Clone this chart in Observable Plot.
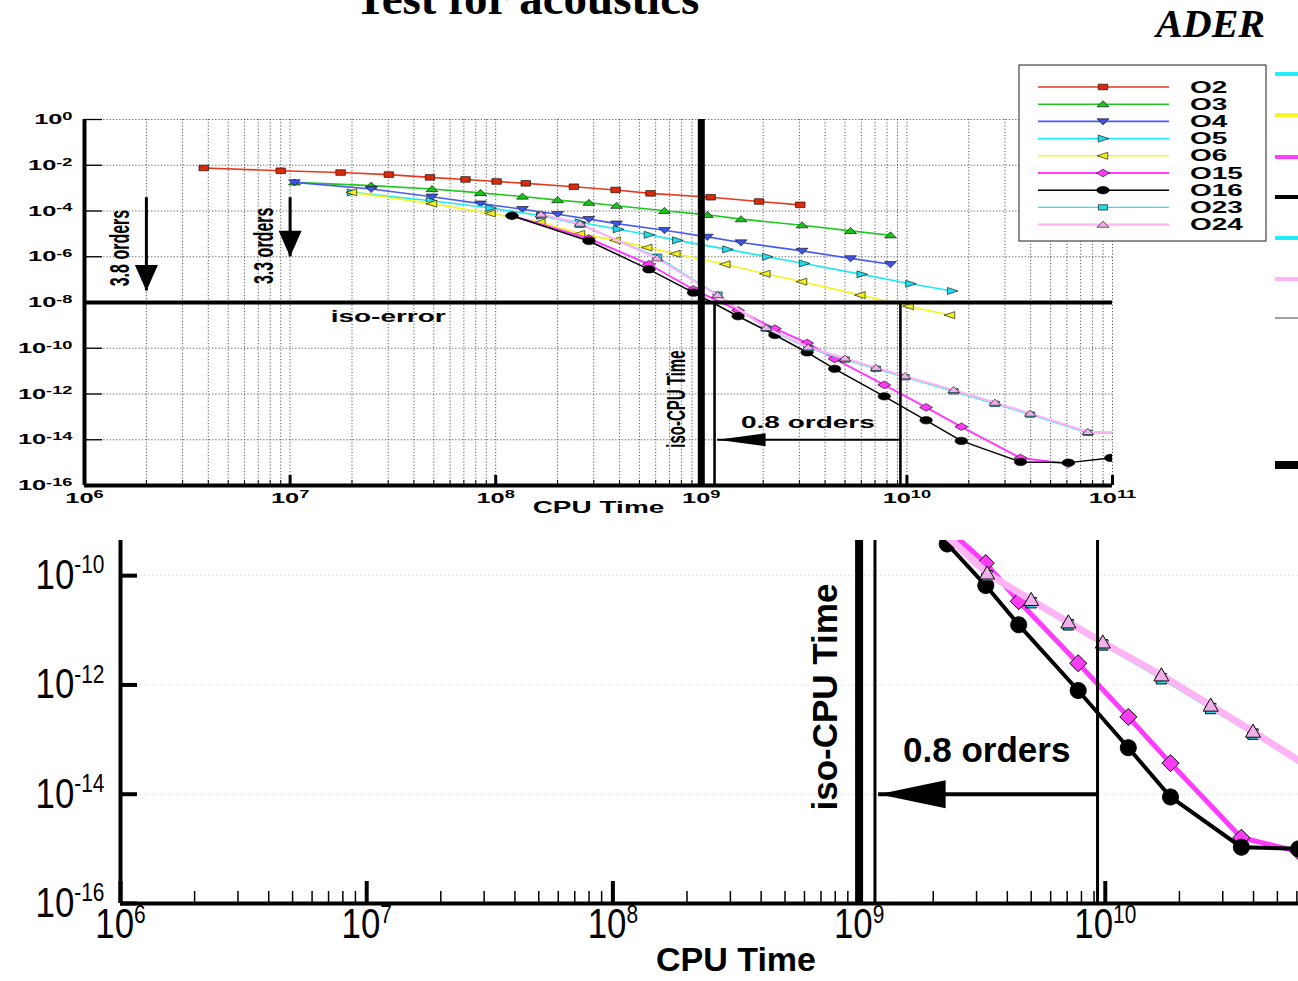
<!DOCTYPE html>
<html>
<head>
<meta charset="utf-8">
<script src="https://cdn.jsdelivr.net/npm/d3@7"></script>
<script src="https://cdn.jsdelivr.net/npm/@observablehq/plot@0.6"></script>
<style>
  html, body { margin: 0; padding: 0; background: #fff; overflow: hidden; width: 1298px; height: 981px; }
  #page { position: relative; width: 1298px; height: 981px; overflow: hidden; background: #fff; }
  #upper { position: absolute; left: 0; top: 0; }
  #lower { position: absolute; left: 0; top: 530px; }
  #page svg { max-width: none !important; }
</style>
</head>
<body>
<div id="page">
  <div id="lower"></div>
  <div id="upper"></div>
</div>
<script>
// ---- Error versus CPU time for each scheme order ----
const o2Time = [3.8e6, 9.0e6, 1.76e7, 3.02e7, 4.79e7, 7.13e7, 1.01e8, 1.40e8, 2.40e8, 3.83e8, 5.66e8, 1.11e9, 1.91e9, 3.03e9];
const o2Err  = [7.6e-3, 5.75e-3, 4.8e-3, 3.9e-3, 2.95e-3, 2.4e-3, 1.95e-3, 1.62e-3, 1.15e-3, 8.3e-4, 5.9e-4, 4.0e-4, 2.6e-4, 1.86e-4];
const o3Time = [1.05e7, 2.48e7, 4.9e7, 8.43e7, 1.35e8, 2.0e8, 2.84e8, 3.87e8, 6.62e8, 1.07e9, 1.56e9, 3.09e9, 5.32e9, 8.32e9];
const o3Err  = [1.78e-3, 1.29e-3, 9.1e-4, 6.2e-4, 4.3e-4, 3.0e-4, 2.3e-4, 1.7e-4, 1.02e-4, 6.8e-5, 4.4e-5, 2.4e-5, 1.35e-5, 8.7e-6];
const o4Time = [1.05e7, 2.48e7, 4.9e7, 8.43e7, 1.35e8, 2.0e8, 2.84e8, 3.87e8, 6.62e8, 1.07e9, 1.56e9, 3.09e9, 5.32e9, 8.32e9];
const o4Err  = [1.78e-3, 9.1e-4, 4.2e-4, 2.1e-4, 1.2e-4, 7.2e-5, 4.4e-5, 2.8e-5, 1.45e-5, 7.4e-6, 4.2e-6, 1.8e-6, 8.5e-7, 4.7e-7];
const o5Time = [2.0e7, 4.85e7, 9.44e7, 1.67e8, 2.57e8, 3.93e8, 5.56e8, 7.64e8, 1.34e9, 2.09e9, 3.16e9, 6.03e9, 1.04e10, 1.66e10];
const o5Err  = [6.5e-4, 2.8e-4, 1.35e-4, 6.2e-5, 3.2e-5, 1.6e-5, 9.1e-6, 5.2e-6, 2.1e-6, 1.0e-6, 5.1e-7, 1.7e-7, 6.6e-8, 3.2e-8];
const o6Time = [2.0e7, 4.9e7, 9.44e7, 1.65e8, 2.57e8, 3.83e8, 5.46e8, 7.48e8, 1.31e9, 2.05e9, 3.09e9, 5.94e9, 1.02e10, 1.62e10];
const o6Err  = [6.5e-4, 2.1e-4, 7.8e-5, 3.2e-5, 1.0e-5, 5.2e-6, 2.5e-6, 1.35e-6, 4.7e-7, 1.8e-7, 8.1e-8, 2.1e-8, 6.9e-9, 2.8e-9];
const o15Time = [1.2e8, 2.84e8, 5.56e8, 9.16e8, 1.51e9, 2.28e9, 3.27e9, 4.45e9, 7.76e9, 1.24e10, 1.84e10, 3.57e10, 6.1e10];
const o15Err  = [6.2e-5, 6.3e-6, 4.7e-7, 3.7e-8, 4.5e-9, 7.2e-10, 1.7e-10, 3.4e-11, 2.5e-12, 2.6e-13, 3.7e-14, 1.6e-15, 8.9e-16];
const o16Time = [1.2e8, 2.84e8, 5.56e8, 9.16e8, 1.51e9, 2.28e9, 3.27e9, 4.45e9, 7.76e9, 1.24e10, 1.84e10, 3.57e10, 6.1e10, 9.8e10];
const o16Err  = [6.2e-5, 4.9e-6, 2.8e-7, 2.7e-8, 2.5e-9, 3.8e-10, 6.6e-11, 1.26e-11, 7.9e-13, 7.1e-14, 8.9e-15, 1.07e-15, 1.0e-15, 1.6e-15];
const o23Time = [1.66e8, 2.57e8, 6.1e8, 1.2e9, 2.07e9, 3.31e9, 5.0e9, 7.08e9, 9.77e9, 1.69e10, 2.68e10, 3.98e10, 7.59e10, 1.3e11];
const o23Err  = [6.3e-5, 2.5e-5, 1.0e-6, 2.2e-8, 7.1e-10, 1.0e-10, 3.2e-11, 1.26e-11, 5.4e-12, 1.3e-12, 3.7e-13, 1.26e-13, 2.0e-14, 1.9e-14];
const o24Time = [1.66e8, 2.57e8, 6.1e8, 1.2e9, 2.07e9, 3.31e9, 5.0e9, 7.08e9, 9.77e9, 1.69e10, 2.68e10, 3.98e10, 7.59e10, 1.3e11];
const o24Err  = [7.1e-5, 2.8e-5, 8.5e-7, 2.1e-8, 7.8e-10, 1.1e-10, 3.6e-11, 1.4e-11, 6.0e-12, 1.5e-12, 4.2e-13, 1.4e-13, 2.2e-14, 2.0e-14];

const seriesNames = ["O2", "O3", "O4", "O5", "O6", "O15", "O16", "O23", "O24"];
const seriesTime = {O2: o2Time, O3: o3Time, O4: o4Time, O5: o5Time, O6: o6Time, O15: o15Time, O16: o16Time, O23: o23Time, O24: o24Time};
const seriesErr  = {O2: o2Err, O3: o3Err, O4: o4Err, O5: o5Err, O6: o6Err, O15: o15Err, O16: o16Err, O23: o23Err, O24: o24Err};

// Axis ticks
const timeDecades = [1e6, 1e7, 1e8, 1e9, 1e10, 1e11];
const timeLabelsLower = [1e6, 1e7, 1e8, 1e9, 1e10];
const errTicksTop = [1e0, 1e-2, 1e-4, 1e-6, 1e-8, 1e-10, 1e-12, 1e-14, 1e-16];
const errTicksBottom = [1e-10, 1e-12, 1e-14, 1e-16];

// Annotations: iso-error level, iso-CPU time, and the gains they mark
const isoError = 1e-8;
const isoCpu = 1e9;
const cpuBracket = [1.16e9, 9.3e9];
const gainArrow = [{from: 9.3e9, to: 1.2e9, e: 1e-14, label: "0.8 orders", labelT: 3.3e9}];
const orderArrows = [
  {t: 2e6, from: 3.8e-4, to: 3.2e-8, label: "3.8 orders", labelE: 2.4e-6},
  {t: 1e7, from: 3.8e-4, to: 1e-6, label: "3.3 orders", labelE: 3.0e-6}
];
const isoLabels = [{t: 3.0e7, e: isoError, label: "iso-error"}];
const isoCpuLabel = [{t: isoCpu, e: 6e-13, label: "iso-CPU Time"}];

// ---- Build the long table ----
const rows = seriesNames.flatMap(name =>
  seriesTime[name].map((t, i) => ({name, t, e: seriesErr[name][i]})));

const look = {
  O2:  {stroke: "#e63a1e", fill: "#d92a0c", shape: "square",  wTop: 1.6, wBot: 3, rTop: 4.4, rBot: 7},
  O3:  {stroke: "#1ec81e", fill: "#1fbf1f", shape: "up",      wTop: 1.6, wBot: 3, rTop: 4.4, rBot: 8},
  O4:  {stroke: "#4a5cf0", fill: "#3f55e8", shape: "down",    wTop: 1.6, wBot: 3, rTop: 4.4, rBot: 8},
  O5:  {stroke: "#1ee8f5", fill: "#22dcea", shape: "right",   wTop: 1.6, wBot: 3, rTop: 4.4, rBot: 8},
  O6:  {stroke: "#f5f51e", fill: "#eeee22", shape: "left",    wTop: 1.6, wBot: 3, rTop: 4.4, rBot: 8},
  O15: {stroke: "#ff3cff", fill: "#ff3cf5", shape: "diamond", wTop: 2.0, wBot: 5, rTop: 4.8, rBot: 8.5},
  O16: {stroke: "#000000", fill: "#000000", shape: "circle",  wTop: 1.5, wBot: 4, rTop: 4.6, rBot: 8},
  O23: {stroke: "#1ee8f0", fill: "#22dde8", shape: "square",  wTop: 1.2, wBot: 2, rTop: 4.2, rBot: 6.5},
  O24: {stroke: "#ffb4f5", fill: "#f2b0ea", shape: "up",      wTop: 2.2, wBot: 7, rTop: 4.4, rBot: 7.5}
};

const unitShapes = {
  square:  [[-0.8, -0.8], [0.8, -0.8], [0.8, 0.8], [-0.8, 0.8]],
  up:      [[0, -1], [1, 0.75], [-1, 0.75]],
  down:    [[0, 1], [1, -0.75], [-1, -0.75]],
  right:   [[1, 0], [-0.8, -1], [-0.8, 1]],
  left:    [[-1, 0], [0.8, -1], [0.8, 1]],
  diamond: [[0, -1], [1, 0], [0, 1], [-1, 0]]
};
function makeSymbol(shape, sx, sy) {
  return {
    draw(ctx, size) {
      const r = Math.sqrt(size / Math.PI);
      if (shape === "circle") {
        const k = 0.5523, a = r * sx, b = r * sy;
        ctx.moveTo(a, 0);
        ctx.bezierCurveTo(a, k * b, k * a, b, 0, b);
        ctx.bezierCurveTo(-k * a, b, -a, k * b, -a, 0);
        ctx.bezierCurveTo(-a, -k * b, -k * a, -b, 0, -b);
        ctx.bezierCurveTo(k * a, -b, a, -k * b, a, 0);
        ctx.closePath();
        return;
      }
      const p = unitShapes[shape];
      ctx.moveTo(p[0][0] * r * sx, p[0][1] * r * sy);
      for (let i = 1; i < p.length; ++i) ctx.lineTo(p[i][0] * r * sx, p[i][1] * r * sy);
      ctx.closePath();
    }
  };
}
// filled arrowheads with the tip at the anchor point
function arrowHead(dir, len, half) {
  return {
    draw(ctx) {
      if (dir === "down") { ctx.moveTo(0, 0); ctx.lineTo(-half, -len); ctx.lineTo(half, -len); }
      else { ctx.moveTo(0, 0); ctx.lineTo(len, -half); ctx.lineTo(len, half); }
      ctx.closePath();
    }
  };
}

function curveMarks(panel) {
  const up = panel === "upper";
  const sx = up ? 1.35 : 1, sy = up ? 0.8 : 1;
  return seriesNames.flatMap(name => {
    const L = look[name];
    const data = rows.filter(d => d.name === name);
    return [
      Plot.line(data, {x: "t", y: "e", stroke: L.stroke, strokeWidth: up ? L.wTop : L.wBot, clip: true}),
      Plot.dot(data, {x: "t", y: "e", symbol: makeSymbol(L.shape, sx, sy), r: up ? L.rTop : L.rBot,
        fill: L.fill, stroke: "#000", strokeWidth: up ? 0.6 : 1, clip: true})
    ];
  });
}

const fmtPow = d => `10^${Math.round(Math.log10(d))}`;
const minorTimes = d3.range(6, 11).flatMap(p => d3.range(2, 10).map(m => m * 10 ** p));
const allTimes = minorTimes.concat(timeDecades);
const sansBold = "'Liberation Sans', Arial, Helvetica, sans-serif";

// ---------------- Upper panel ----------------
const upperPlot = Plot.plot({
  width: 1298, height: 530,
  marginLeft: 84, marginRight: 186, marginTop: 119, marginBottom: 45,
  x: {type: "log", domain: [1e6, 1e11]},
  y: {type: "log", domain: [1e-16, 1]},
  style: {background: "transparent", fontFamily: sansBold, fontWeight: "bold", overflow: "visible", color: "#000"},
  marks: [
    Plot.gridX({ticks: allTimes, stroke: "#333", strokeOpacity: 0.9, strokeWidth: 0.9, strokeDasharray: "1.2,2"}),
    Plot.gridY({ticks: errTicksTop, stroke: "#333", strokeOpacity: 0.9, strokeWidth: 0.9, strokeDasharray: "1.2,2"}),
    ...curveMarks("upper"),
    Plot.ruleY([isoError], {strokeWidth: 4, stroke: "#000"}),
    Plot.ruleX([isoCpu], {strokeWidth: 7, stroke: "#000"}),
    Plot.ruleX(cpuBracket, {x: d => d, y1: isoError, y2: 1e-16, strokeWidth: 2.6, stroke: "#000"}),
    Plot.ruleY(gainArrow, {y: "e", x1: "from", x2: "to", strokeWidth: 2, stroke: "#000"}),
    Plot.dot(gainArrow, {x: "to", y: "e", symbol: arrowHead("left", 48, 6.5), r: 1, fill: "#000", stroke: null}),
    Plot.ruleX(orderArrows, {x: "t", y1: "from", y2: "to", strokeWidth: 3, stroke: "#000"}),
    Plot.dot(orderArrows, {x: "t", y: "to", symbol: arrowHead("down", 26, 11.5), r: 1, fill: "#000", stroke: null}),
    Plot.text(orderArrows, {x: "t", y: "labelE", text: "label", dx: -26, rotate: -90, fontSize: 16, fontWeight: "bold"}),
    Plot.text(isoLabels, {x: "t", y: "e", text: "label", dy: 14, fontSize: 16, fontWeight: "bold"}),
    Plot.text(gainArrow, {x: "labelT", y: "e", text: "label", dy: -17, fontSize: 16, fontWeight: "bold"}),
    Plot.text(isoCpuLabel, {x: "t", y: "e", text: "label", dx: -25, rotate: -90, fontSize: 15, fontWeight: "bold"}),
    Plot.text(["CPU Time"], {frameAnchor: "bottom", dy: 27, fontSize: 16, fontWeight: "bold"}),
    Plot.axisY({ticks: errTicksTop, tickSize: 0, tickPadding: 12, tickFormat: fmtPow, fontSize: 14.5, label: null}),
    Plot.axisY({ticks: errTicksTop, tickSize: -18, tickFormat: () => "", strokeWidth: 1.3, label: null}),
    Plot.axisX({ticks: timeDecades, tickSize: 0, tickPadding: 7, tickFormat: fmtPow, fontSize: 14.5, label: null}),
    Plot.axisX({ticks: timeDecades, tickSize: -10, tickFormat: () => "", strokeWidth: 3, label: null}),
    Plot.axisX({ticks: minorTimes, tickSize: -5, tickFormat: () => "", strokeWidth: 1, label: null}),
    Plot.ruleX([1e6], {strokeWidth: 4, stroke: "#000"}),
    Plot.ruleY([1e-16], {strokeWidth: 4, stroke: "#000"})
  ]
});

// ---------------- Lower panel (enlarged view of the low-error region) ----------------
const lowerPlot = Plot.plot({
  width: 1371, height: 451,
  marginLeft: 120, marginRight: 20, marginTop: 10, marginBottom: 78,
  x: {type: "log", domain: [1e6, 1e11]},
  y: {type: "log", domain: [1e-16, 4.4e-10]},
  style: {background: "transparent", fontFamily: "'Liberation Sans', Arial, Helvetica, sans-serif", overflow: "visible", color: "#000"},
  marks: [
    Plot.gridY({ticks: errTicksBottom, stroke: "#bbb", strokeOpacity: 0.6, strokeDasharray: "1,3"}),
    ...curveMarks("lower"),
    Plot.ruleX([isoCpu], {strokeWidth: 8, stroke: "#000"}),
    Plot.ruleX(cpuBracket, {x: d => d, y1: isoError, y2: 1e-16, strokeWidth: 3, stroke: "#000", clip: true}),
    Plot.ruleY(gainArrow, {y: "e", x1: "from", x2: "to", strokeWidth: 4, stroke: "#000"}),
    Plot.dot(gainArrow, {x: "to", y: "e", symbol: arrowHead("left", 67, 14), r: 1, fill: "#000", stroke: null}),
    Plot.text(gainArrow, {x: "labelT", y: "e", text: "label", dy: -43, fontSize: 35, fontWeight: "bold"}),
    Plot.text(isoCpuLabel, {x: "t", y: "e", text: "label", dx: -33, rotate: -90, fontSize: 35, fontWeight: "bold"}),
    Plot.text(["CPU Time"], {frameAnchor: "bottom", dy: 67, fontSize: 34, fontWeight: "bold"}),
    Plot.axisY({ticks: errTicksBottom, tickSize: 0, tickPadding: 16, tickFormat: fmtPow, fontSize: 42, label: null}),
    Plot.axisY({ticks: errTicksBottom, tickSize: -17, tickFormat: () => "", strokeWidth: 4, label: null}),
    Plot.axisX({ticks: timeLabelsLower, tickSize: 0, tickPadding: 5, tickFormat: fmtPow, fontSize: 42, label: null}),
    Plot.axisX({ticks: timeDecades, tickSize: -22, tickFormat: () => "", strokeWidth: 4, label: null}),
    Plot.axisX({ticks: minorTimes, tickSize: -12, tickFormat: () => "", strokeWidth: 1.5, label: null}),
    Plot.ruleX([1e6], {strokeWidth: 4, stroke: "#000"}),
    Plot.ruleY([1e-16], {strokeWidth: 4, stroke: "#000"})
  ]
});

// ---- text helpers ----
const SVGNS = "http://www.w3.org/2000/svg";
function superscript(svg, supSize, supDy) {
  svg.querySelectorAll('g[aria-label$="tick label"] text').forEach(el => {
    const m = el.textContent.match(/^10\^(.+)$/);
    if (!m) return;
    el.textContent = "10";
    const ts = document.createElementNS(SVGNS, "tspan");
    ts.setAttribute("dy", supDy);
    ts.setAttribute("font-size", supSize);
    ts.textContent = m[1];
    el.appendChild(ts);
  });
}
// widen or narrow a text horizontally about its anchor point
function stretchText(el, k) {
  let t = el.getAttribute("transform") || "";
  const x = parseFloat(el.getAttribute("x"));
  if (!isNaN(x) && !/em$/.test(el.getAttribute("x"))) {
    t += ` translate(${x},0)`;
    el.removeAttribute("x");
  }
  if (t.includes("rotate(")) t = t.replace("rotate(", `scale(${k},1) rotate(`);
  else t += ` scale(${k},1)`;
  el.setAttribute("transform", t);
}

superscript(upperPlot, "0.72em", "-0.42em");
superscript(lowerPlot, "0.6em", "-0.62em");
upperPlot.querySelectorAll("text").forEach(el => stretchText(el, 1.75));
lowerPlot.querySelectorAll('g[aria-label$="tick label"] text').forEach(el => stretchText(el, 0.83));

// ---- titles, legend and side key on the upper panel ----
const upperSel = d3.select(upperPlot);
upperSel.append("text").attr("x", 527).attr("y", 14).attr("text-anchor", "middle")
  .attr("font-family", "'Liberation Serif', 'Times New Roman', serif").attr("font-weight", "bold")
  .attr("font-size", 47).text("Test for acoustics");
upperSel.append("text").attr("x", 1265).attr("y", 37).attr("text-anchor", "end")
  .attr("font-family", "'Liberation Serif', 'Times New Roman', serif").attr("font-weight", "bold")
  .attr("font-style", "italic").attr("font-size", 40).text("ADER");

const legend = upperSel.append("g");
legend.append("rect").attr("x", 1019).attr("y", 65).attr("width", 247).attr("height", 176)
  .attr("fill", "#fff").attr("stroke", "#444").attr("stroke-width", 1.2);
seriesNames.forEach((name, i) => {
  const L = look[name];
  const y = 87 + i * 17.2;
  legend.append("line").attr("x1", 1038).attr("x2", 1169).attr("y1", y).attr("y2", y)
    .attr("stroke", L.stroke).attr("stroke-width", Math.max(1.4, L.wTop));
  legend.append("path").attr("transform", `translate(1103,${y})`)
    .attr("d", d3.symbol(makeSymbol(L.shape, 1.35, 0.8), Math.PI * L.rTop * L.rTop)())
    .attr("fill", L.fill).attr("stroke", "#000").attr("stroke-width", 0.6);
  legend.append("text").attr("transform", `translate(1190,${y + 5.5}) scale(1.75,1)`)
    .attr("text-anchor", "start")
    .attr("font-family", sansBold).attr("font-weight", "bold").attr("font-size", 16).text(name);
});

// key lines of the enlarged view, at the right edge
const sideKey = [
  {y: 74, color: "#22eefa", w: 4}, {y: 115, color: "#f5f522", w: 4}, {y: 157, color: "#ff3cff", w: 4},
  {y: 197, color: "#000", w: 4}, {y: 238, color: "#22eefa", w: 4}, {y: 279, color: "#ffb4f5", w: 4},
  {y: 318, color: "#666", w: 1.2}, {y: 465, color: "#000", w: 8}
];
sideKey.forEach(k => upperSel.append("line").attr("x1", 1275).attr("x2", 1300).attr("y1", k.y).attr("y2", k.y)
  .attr("stroke", k.color).attr("stroke-width", k.w));

document.getElementById("upper").appendChild(upperPlot);
document.getElementById("lower").appendChild(lowerPlot);
</script>
</body>
</html>
